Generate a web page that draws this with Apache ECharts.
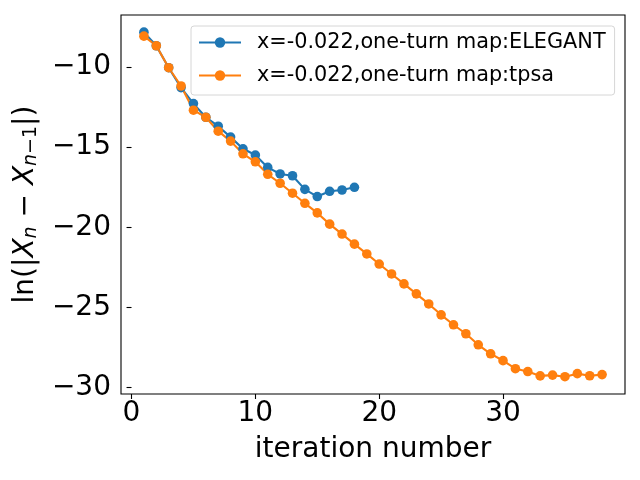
<!DOCTYPE html>
<html>
<head>
<meta charset="utf-8">
<script src="https://cdn.jsdelivr.net/npm/echarts@6/dist/echarts.min.js"></script>
<style>html,body{margin:0;padding:0;background:#fff}#c{width:640px;height:480px}</style>
</head>
<body>
<div id="c"></div>
<script>
var iterElegant = [1,2,3,4,5,6,7,8,9,10,11,12,13,14,15,16,17,18];
var valElegant = [-7.82,-8.67,-10.04,-11.28,-12.28,-13.13,-13.69,-14.37,-15.10,-15.49,-16.26,-16.67,-16.78,-17.63,-18.08,-17.75,-17.67,-17.50];
var iterTpsa = [1,2,3,4,5,6,7,8,9,10,11,12,13,14,15,16,17,18,19,20,21,22,23,24,25,26,27,28,29,30,31,32,33,34,35,36,37,38];
var valTpsa = [-8.07,-8.67,-10.04,-11.18,-12.69,-13.13,-14.00,-14.62,-15.41,-15.91,-16.69,-17.25,-17.87,-18.50,-19.10,-19.80,-20.42,-21.05,-21.66,-22.29,-22.91,-23.53,-24.15,-24.78,-25.46,-26.08,-26.64,-27.33,-27.89,-28.32,-28.82,-29.00,-29.27,-29.22,-29.32,-29.13,-29.26,-29.19];
var xTicks = [0,10,20,30];
var yTicks = [-30,-25,-20,-15,-10];
var seriesNames = ['x=-0.022,one-turn map:ELEGANT','x=-0.022,one-turn map:tpsa'];

function pairs(xs, ys){ return xs.map(function(x,i){ return [x, ys[i]]; }); }
function fmt(v){ return String(v).replace('-', '\u2212'); }
var FONT = 'DejaVu Sans';
var chart = echarts.init(document.getElementById('c'), null, {renderer:'canvas'});
chart.setOption({
  animation: false,
  backgroundColor: '#fff',
  textStyle: {fontFamily: FONT},
  grid: {left:121, right:15, top:15, bottom:86, show:true, borderColor:'#000', borderWidth:1.1, backgroundColor:'transparent'},
  legend: {
    orient:'vertical', left:191, top:26,
    data: seriesNames,
    itemWidth:42, itemHeight:13, itemGap:12,
    padding:[6,9,9,7],
    backgroundColor:'rgba(255,255,255,0.8)',
    borderColor:'#d6d6d6', borderWidth:1, borderRadius:3,
    textStyle:{fontFamily:FONT, fontSize:20.8, color:'#000', lineHeight:20, padding:[0,0,0,11]}
  },
  xAxis: {
    type:'value', min:-0.85, max:39.85,
    name:'iteration number', nameLocation:'middle', nameGap:42,
    nameTextStyle:{fontFamily:FONT, fontSize:28, color:'#000'},
    axisLine:{show:false},
    axisTick:{show:true, inside:false, length:5, lineStyle:{color:'#000', width:1.1}, customValues:xTicks},
    axisLabel:{fontFamily:FONT, fontSize:28, color:'#000', margin:6, customValues:xTicks, formatter:fmt},
    splitLine:{show:false}
  },
  yAxis: {
    type:'value', min:-30.4, max:-6.75,
    name:'{a|ln(|}{i|X}{s|n}{a| \u2212 }{i|X}{si|n}{ss|\u22121}{a||)}',
    nameLocation:'middle', nameGap:79, nameRotate:90,
    nameTextStyle:{fontFamily:FONT, fontSize:28, color:'#000',
      rich:{
        a:{fontFamily:FONT, fontSize:28, color:'#000'},
        i:{fontFamily:FONT, fontSize:28, fontStyle:'italic', color:'#000'},
        s:{fontFamily:FONT, fontSize:19, fontStyle:'italic', color:'#000', padding:[12,0,0,0]},
        si:{fontFamily:FONT, fontSize:19, fontStyle:'italic', color:'#000', padding:[12,0,0,0]},
        ss:{fontFamily:FONT, fontSize:19, color:'#000', padding:[12,0,0,0]}
      }},
    axisLine:{show:false},
    axisTick:{show:true, inside:false, length:5, lineStyle:{color:'#000', width:1.1}, customValues:yTicks},
    axisLabel:{fontFamily:FONT, fontSize:28, color:'#000', margin:10, customValues:yTicks, formatter:fmt},
    splitLine:{show:false}
  },
  series: [
    {name:seriesNames[0], type:'line', data:pairs(iterElegant, valElegant), color:'#1f77b4',
     symbol:'circle', symbolSize:9.6, showAllSymbol:true, lineStyle:{width:2.1}, itemStyle:{color:'#1f77b4'}},
    {name:seriesNames[1], type:'line', data:pairs(iterTpsa, valTpsa), color:'#ff7f0e',
     symbol:'circle', symbolSize:9.6, showAllSymbol:true, lineStyle:{width:2.1}, itemStyle:{color:'#ff7f0e'}}
  ]
});
</script>
</body>
</html>
